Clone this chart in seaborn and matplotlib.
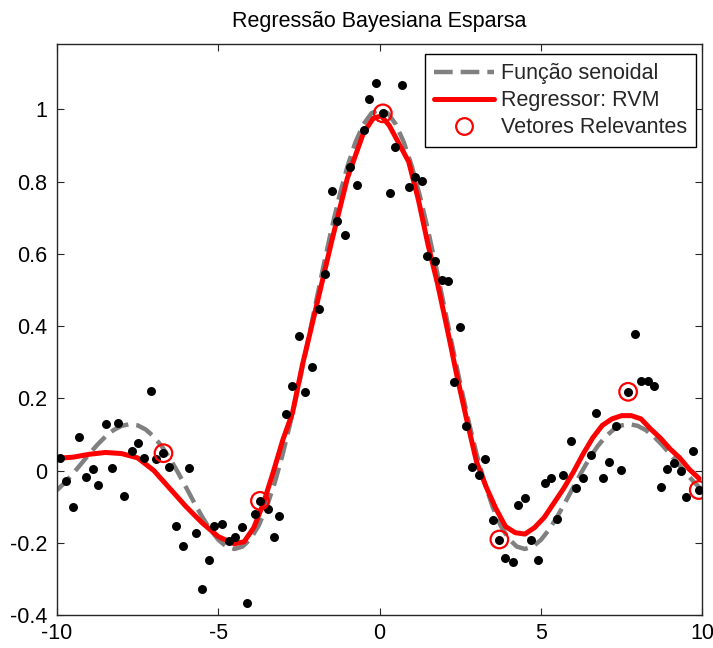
import numpy as np
import pandas as pd
import matplotlib
matplotlib.use("Agg")
import matplotlib.pyplot as plt
from matplotlib.lines import Line2D
import seaborn as sns

# Noisy samples of the target function
sample_x = [-9.91, -9.72, -9.49, -9.31, -9.11, -8.89, -8.72, -8.49, -8.30, -8.10,
            -7.91, -7.68, -7.48, -7.31, -7.08, -6.94, -6.70, -6.53, -6.31, -6.08,
            -5.90, -5.69, -5.50, -5.29, -5.13, -4.88, -4.68, -4.49, -4.28, -4.12,
            -3.87, -3.71, -3.46, -3.27, -3.11, -2.90, -2.71, -2.49, -2.30, -2.09,
            -1.87, -1.69, -1.48, -1.31, -1.08, -0.92, -0.69, -0.50, -0.32, -0.11,
            0.10, 0.32, 0.49, 0.69, 0.92, 1.10, 1.31, 1.48, 1.72, 1.92,
            2.12, 2.30, 2.49, 2.69, 2.87, 3.08, 3.28, 3.50, 3.71, 3.90,
            4.12, 4.29, 4.52, 4.68, 4.91, 5.13, 5.32, 5.51, 5.69, 5.92,
            6.09, 6.31, 6.54, 6.71, 6.91, 7.10, 7.33, 7.49, 7.70, 7.92,
            8.09, 8.32, 8.50, 8.71, 8.90, 9.12, 9.33, 9.50, 9.72, 9.89]
sample_y = [0.034, -0.029, -0.102, 0.092, -0.017, 0.003, -0.040, 0.129, 0.008, 0.132,
            -0.071, 0.055, 0.075, 0.036, 0.221, 0.031, 0.048, 0.011, -0.154, -0.209,
            0.008, -0.172, -0.329, -0.248, -0.154, -0.148, -0.194, -0.183, -0.157, -0.366,
            -0.119, -0.084, -0.107, -0.185, -0.126, 0.156, 0.234, 0.372, 0.217, 0.286,
            0.446, 0.544, 0.775, 0.692, 0.653, 0.841, 0.790, 0.943, 1.028, 1.074,
            0.989, 0.769, 0.895, 1.067, 0.786, 0.812, 0.801, 0.594, 0.579, 0.527,
            0.524, 0.246, 0.398, 0.124, 0.009, -0.012, 0.032, -0.137, -0.191, -0.243,
            -0.252, -0.096, -0.075, -0.192, -0.248, -0.035, -0.022, -0.133, -0.012, 0.081,
            -0.048, -0.022, 0.042, 0.158, -0.022, 0.025, 0.123, 0.001, 0.218, 0.378,
            0.249, 0.249, 0.234, -0.045, 0.003, 0.022, -0.001, -0.072, 0.055, -0.054]

# Relevance vectors kept by the RVM
rv_x = [-6.70, -3.71, 0.10, 3.71, 7.70, 9.89]
rv_y = [0.048, -0.084, 0.989, -0.191, 0.218, -0.054]

# True function sampled on a 0.25 grid (right half; the curve is even)
true_half_x = [0.0, 0.25, 0.5, 0.75, 1.0, 1.25, 1.5, 1.75, 2.0, 2.25, 2.5, 2.75,
               3.0, 3.25, 3.5, 3.75, 4.0, 4.25, 4.5, 4.75, 5.0, 5.25, 5.5, 5.75,
               6.0, 6.25, 6.5, 6.75, 7.0, 7.25, 7.5, 7.75, 8.0, 8.25, 8.5, 8.75,
               9.0, 9.25, 9.5, 9.75, 10.0]
true_half_y = [1.0, 0.98962, 0.95885, 0.90885, 0.84147, 0.75919, 0.66500, 0.56228,
               0.45465, 0.34581, 0.23939, 0.13879, 0.04704, -0.03329, -0.10022,
               -0.15242, -0.18920, -0.21059, -0.21723, -0.21038, -0.19178, -0.16361,
               -0.12828, -0.08840, -0.04657, -0.00531, 0.03310, 0.06667, 0.09386,
               0.11353, 0.12507, 0.12834, 0.12367, 0.11183, 0.09394, 0.07140,
               0.04579, 0.01880, -0.00791, -0.03273, -0.05440]
true_x = [-v for v in true_half_x[::-1]] + true_half_x[1:]
true_y = true_half_y[::-1] + true_half_y[1:]

# RVM predictive mean
rvm_x = [-10.0, -9.5, -9.0, -8.5, -8.0, -7.5, -7.0, -6.5, -6.0, -5.5, -5.0, -4.5,
         -4.2, -3.9, -3.6, -3.3, -3.0, -2.7, -2.4, -2.0, -1.5, -1.0, -0.5, -0.2,
         0.05, 0.3, 0.6, 0.9, 1.2, 1.5, 1.8, 2.1, 2.4, 2.7, 3.0, 3.3, 3.6, 3.9,
         4.2, 4.5, 4.8, 5.1, 5.4, 5.7, 6.0, 6.3, 6.6, 6.9, 7.2, 7.5, 7.8, 8.1,
         8.4, 8.7, 9.0, 9.3, 9.6, 9.9]
rvm_y = [0.034, 0.037, 0.045, 0.050, 0.047, 0.035, 0.000, -0.050, -0.100, -0.145,
         -0.183, -0.203, -0.197, -0.158, -0.090, -0.005, 0.085, 0.160, 0.290, 0.440,
         0.630, 0.810, 0.935, 0.975, 0.982, 0.955, 0.905, 0.855, 0.750, 0.625,
         0.515, 0.390, 0.260, 0.140, 0.025, -0.045, -0.105, -0.155, -0.172, -0.176,
         -0.158, -0.130, -0.090, -0.050, -0.005, 0.045, 0.090, 0.125, 0.143, 0.152,
         0.152, 0.143, 0.115, 0.090, 0.060, 0.035, 0.003, -0.022]

x_ticks = [-10, -5, 0, 5, 10]
x_tick_labels = ["-10", "-5", "0", "5", "10"]
y_ticks = [-0.4, -0.2, 0.0, 0.2, 0.4, 0.6, 0.8, 1.0]
y_tick_labels = ["-0.4", "-0.2", "0", "0.2", "0.4", "0.6", "0.8", "1"]

title = "Regressão Bayesiana Esparsa"
labels = ["Função senoidal", "Regressor: RVM", "Vetores Relevantes"]

sns.set_theme(style="white")
plt.rcParams["font.family"] = ["Liberation Sans", "DejaVu Sans"]
plt.rcParams["axes.unicode_minus"] = False
FS = 15.5

W, H = 713, 648
fig = plt.figure(figsize=(W / 100, H / 100), dpi=100)
L, R, T, B = 57, 702.3, 44, 615
ax = fig.add_axes([L / W, 1 - B / H, (R - L) / W, (B - T) / H])

gray = "#808080"
red = "#ff0000"

sns.lineplot(x=true_x, y=true_y, ax=ax, color=gray, linewidth=3.2,
             linestyle=(0, (4.2, 1.8)), sort=False, zorder=2)
sns.lineplot(x=rvm_x, y=rvm_y, ax=ax, color=red, linewidth=3.6,
             sort=False, zorder=3)
sns.scatterplot(x=sample_x, y=sample_y, ax=ax, color="black", s=42,
                linewidth=0, zorder=4)
sns.scatterplot(x=rv_x, y=rv_y, ax=ax, facecolor="none", edgecolor=red,
                marker="o", s=160, linewidth=1.6, zorder=5)

ax.set_xlim(-10, 10)
ax.set_ylim(-0.4, 1.181)
ax.set_xticks(x_ticks)
ax.set_xticklabels(x_tick_labels)
ax.set_yticks(y_ticks)
ax.set_yticklabels(y_tick_labels)
ax.tick_params(direction="in", length=5, width=0.8, colors="#262626",
               labelcolor="black", labelsize=FS, top=True, right=True,
               bottom=True, left=True)
ax.tick_params(axis="y", pad=7)
ax.tick_params(axis="x", pad=6)
for s in ax.spines.values():
    s.set_visible(True)
    s.set_color("#262626")
    s.set_linewidth(1.0)
ax.set_xlabel("")
ax.set_ylabel("")
ax.set_title(title, fontsize=FS, pad=12, color="black")

handles = [
    Line2D([], [], color=gray, linewidth=3.2, linestyle=(0, (4.2, 1.8))),
    Line2D([], [], color=red, linewidth=3.6),
    Line2D([], [], color=red, linestyle="none", marker="o", markersize=12,
           markerfacecolor="none", markeredgewidth=1.6),
]
leg = ax.legend(handles, labels, loc="upper right",
                bbox_to_anchor=(696 / W, 1 - 54 / H),
                bbox_transform=fig.transFigure, borderaxespad=0,
                fontsize=FS, frameon=True, fancybox=False, framealpha=1,
                handlelength=2.8, handletextpad=0.3, labelspacing=0.28,
                borderpad=0.42)
leg.get_frame().set_edgecolor("black")
leg.get_frame().set_linewidth(1.0)

fig.savefig("out.png", dpi=100)
